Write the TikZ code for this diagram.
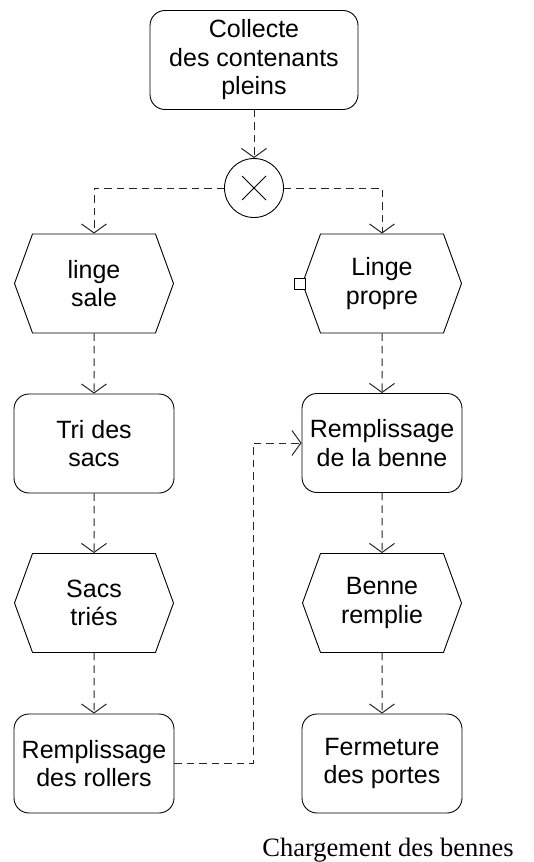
\documentclass[tikz,border=0pt]{standalone}
\usepackage{fontspec}
\setmainfont{Liberation Sans}
\newfontfamily\captionfont{Liberation Serif}
\usetikzlibrary{arrows.meta, shapes.symbols}

\begin{document}
\begin{tikzpicture}[
    x=1pt, y=-1pt,
    every node/.style={font=\fontsize{25}{28.5}\selectfont, align=center, line width=0.9pt},
    task/.style={draw, rounded corners=15pt, minimum width=160pt, minimum height=99pt, inner sep=0pt},
    event/.style={draw, signal, signal to=west and east, signal pointer angle=140,
        minimum width=159pt, minimum height=99pt, inner sep=0pt},
    xorgate/.style={draw, circle, minimum size=59pt, inner sep=0pt,
        path picture={\draw ([shift={(-12pt,-12pt)}]path picture bounding box.center) -- ([shift={(12pt,12pt)}]path picture bounding box.center)
            ([shift={(-12pt,12pt)}]path picture bounding box.center) -- ([shift={(12pt,-12pt)}]path picture bounding box.center);}},
    port/.style={draw, fill=white, minimum size=11pt, inner sep=0pt},
    flow/.style={draw=black!85, line width=1pt, dash pattern=on 7.5pt off 5pt,
        -{Straight Barb[length=9pt, width=25pt]}}
]
\useasboundingbox (0,0) rectangle (533,862);

\node[task, minimum width=208pt] (collecte) at (254,60) {Collecte\\des contenants\\pleins};
\node[xorgate] (xor) at (254,188) {};
\node[event] (sale) at (94,283.5) {linge\\sale};
\node[event] (propre) at (382,283.5) {Linge\\propre};
\node[port] (propre-port) at ([xshift=-2.5pt]propre.west) {};
\node[task] (tri) at (94,443.5) {Tri des\\sacs};
\node[task] (benne) at (382,443) {Remplissage\\de la benne};
\node[event] (tries) at (94,603) {Sacs\\triés};
\node[event] (remplie) at (382,603) {Benne\\remplie};
\node[task] (rollers) at (94,763.5) {Remplissage\\des rollers};
\node[task] (portes) at (382,763.5) {Fermeture\\des portes};
\node[font=\captionfont\fontsize{26.5}{30}\selectfont] (titre) at (388,850) {Chargement des bennes};
\coordinate (coude) at (253,763.5);

\draw[flow] (collecte) -- (xor);
\draw[flow] (xor.west) -| (sale.north);
\draw[flow] (xor.east) -| (propre.north);
\draw[flow] (sale) -- (tri);
\draw[flow] (tri) -- (tries);
\draw[flow] (tries) -- (rollers);
\draw[flow] (propre) -- (benne);
\draw[flow] (benne) -- (remplie);
\draw[flow] (remplie) -- (portes);
\draw[flow] (rollers.east) -- (coude) |- (benne.west);
\end{tikzpicture}
\end{document}
